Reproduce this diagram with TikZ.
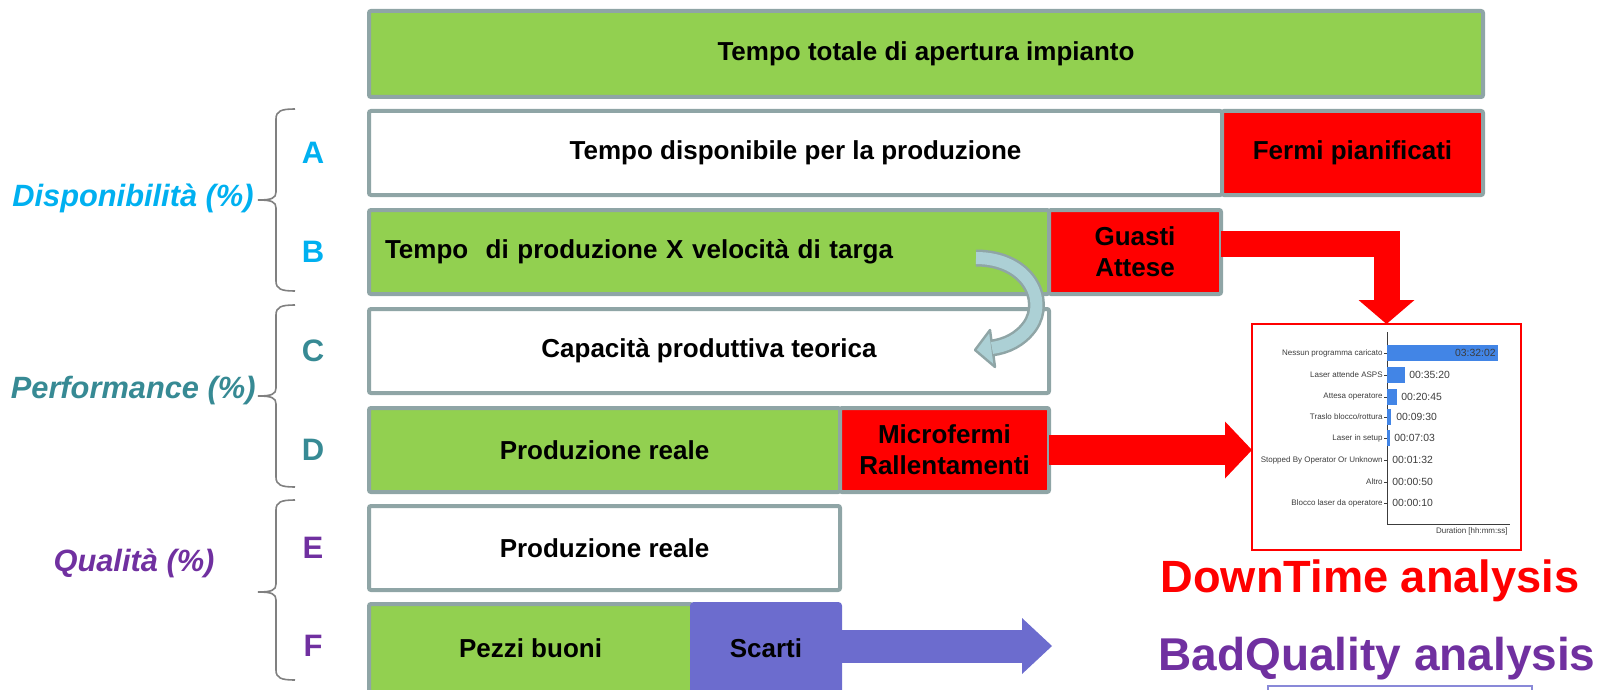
\documentclass[tikz,border=0pt]{standalone}
\usepackage{fontspec}
\setmainfont{Liberation Sans}
\usepackage{tikz}
\usetikzlibrary{calc,positioning,arrows.meta}
\definecolor{kgreen}{RGB}{146,208,80}
\definecolor{kpurple}{RGB}{108,108,206}
\definecolor{boxgray}{RGB}{143,165,166}
\definecolor{bracegray}{RGB}{128,128,128}
\definecolor{dispcol}{RGB}{0,176,240}
\definecolor{perfcol}{RGB}{55,138,148}
\definecolor{qualcol}{RGB}{112,48,160}
\definecolor{curvefill}{RGB}{172,208,213}
\definecolor{barblue}{RGB}{66,133,230}
\definecolor{chartgray}{RGB}{60,60,60}
\tikzset{
  kbox/.style={draw=boxgray, line width=2pt, rounded corners=1pt, inner sep=0pt, outer sep=0pt,
    align=center, minimum height=42pt, font=\bfseries\fontsize{13}{15.5}\selectfont},
  greenbox/.style={kbox, fill=kgreen},
  whitebox/.style={kbox, fill=white},
  redbox/.style={kbox, fill=red},
  letter/.style={font=\bfseries\fontsize{15.5}{18}\selectfont},
  kpi/.style={font=\bfseries\itshape\fontsize{15.4}{18}\selectfont, anchor=east, inner sep=0pt},
  bracket/.style={draw=bracegray, line width=0.8pt},
  blockred/.style={draw=red, line width=15pt, -{Triangle[length=13.5pt, width=28.5pt, line width=0pt]}},
  catlabel/.style={anchor=east, inner sep=0pt, text=chartgray, font=\fontsize{4}{5}\selectfont},
  vallabel/.style={anchor=west, inner sep=0pt, text=chartgray, font=\fontsize{5.2}{6}\selectfont}
}
% brace: top y, tip y, bottom y
\newcommand{\kpibrace}[3]{%
  \draw[bracket] (295,#1) .. controls (281,#1) and (276,#1+2) .. (276,#1+10) -- (276,#2-8)
    .. controls (276,#2-2) and (272,#2) .. (258,#2)
    .. controls (272,#2) and (276,#2+2) .. (276,#2+8) -- (276,#3-10)
    .. controls (276,#3-2) and (281,#3) .. (295,#3);}

\begin{document}
\begin{tikzpicture}[x=0.5pt, y=-0.5pt]
  \useasboundingbox (0,0) rectangle (1600,690);

  % rows
  \node[greenbox, anchor=north west, minimum width=557pt, minimum height=43pt] (total) at (369,11) {Tempo totale di apertura impianto};
  \node[whitebox, anchor=north west, minimum width=426.5pt] (dispon) at (369,111) {Tempo disponibile per la produzione};
  \node[redbox, right=0pt of dispon, minimum width=130.5pt] (fermi) {Fermi pianificati};
  \node[greenbox, anchor=north west, minimum width=340pt, text width=324pt, align=left, inner xsep=8pt] (prodvel) at (369,210) {Tempo\ \ di produzione X velocità di targa};
  \node[redbox, right=0pt of prodvel, minimum width=86pt] (guasti) {Guasti\\Attese};
  \node[whitebox, anchor=north west, minimum width=340pt] (capac) at (369,309) {Capacità produttiva teorica};
  \node[greenbox, anchor=north west, minimum width=235.5pt] (reale) at (369,408) {Produzione reale};
  \node[redbox, right=0pt of reale, minimum width=104.5pt] (microf) {Microfermi\\Rallentamenti};
  \node[whitebox, anchor=north west, minimum width=235.5pt] (realeq) at (369,506) {Produzione reale};
  \node[greenbox, anchor=north west, minimum width=161.5pt, minimum height=44pt] (pezzi) at (369,604) {Pezzi buoni};
  \node[kbox, draw=kpurple, fill=kpurple, right=0pt of pezzi, minimum width=74pt, minimum height=44pt] (scarti) {Scarti};

  % letters and indicators
  \node[letter, text=dispcol] (la) at (313,153) {A};
  \node[letter, text=dispcol] (lb) at (313,252) {B};
  \node[letter, text=perfcol] (lc) at (313,351) {C};
  \node[letter, text=perfcol] (ld) at (313,450) {D};
  \node[letter, text=qualcol] (le) at (313,548) {E};
  \node[letter, text=qualcol] (lf) at (313,646) {F};
  \node[kpi, text=dispcol] (disp) at (254,198) {Disponibilità (\%)};
  \node[kpi, text=perfcol] (perf) at (256,391) {Performance (\%)};
  \node[kpi, text=qualcol, anchor=center] (qual) at (134,563) {Qualità (\%)};
  \kpibrace{109}{200}{291}
  \kpibrace{305}{396}{487}
  \kpibrace{500}{592}{680}

  % curved arrow B -> C
  \draw[line width=8.5pt, draw=boxgray] (976,258) .. controls (1028,258) and (1048,300) .. (1030,326)
    .. controls (1020,340) and (1006,346) .. (992,348);
  \filldraw[fill=curvefill, draw=boxgray, line width=1.2pt, line join=round] (975,350) -- (990,330) -- (995,367) -- cycle;
  \draw[line width=6pt, draw=curvefill] (976,258) .. controls (1028,258) and (1048,300) .. (1030,326)
    .. controls (1020,340) and (1006,346) .. (992,348);

  % downtime chart
  \node[draw=red, line width=1pt, inner sep=0pt, outer sep=0pt, minimum width=134.5pt, minimum height=113pt] (chart) at (1386.5,437) {};
  \draw[chartgray, line width=0.5pt] (1387,332) -- (1387,524) -- (1510,524);
  \fill[barblue] (1387,345) rectangle (1498,361);
  \fill[barblue] (1387,367) rectangle (1405,383);
  \fill[barblue] (1387,389) rectangle (1397,405);
  \fill[barblue] (1387,409) rectangle (1391,425);
  \fill[barblue] (1387,430) rectangle (1390,446);
  \node[catlabel] (c1) at (1383,353) {Nessun programma caricato};
  \node[catlabel] (c2) at (1383,375) {Laser attende ASPS};
  \node[catlabel] (c3) at (1383,397) {Attesa operatore};
  \node[catlabel] (c4) at (1383,417) {Traslo blocco/rottura};
  \node[catlabel] (c5) at (1383,438) {Laser in setup};
  \node[catlabel] (c6) at (1383,460) {Stopped By Operator Or Unknown};
  \node[catlabel] (c7) at (1383,482) {Altro};
  \node[catlabel] (c8) at (1383,503) {Blocco laser da operatore};
  \foreach \yy in {353,375,397,417,438,460,482,503}
    \draw[chartgray, line width=0.4pt] (1384,\yy) -- (1387,\yy);
  \node[vallabel, anchor=east] (v1) at (1496,353) {03:32:02};
  \node[vallabel] (v2) at (1409,375) {00:35:20};
  \node[vallabel] (v3) at (1401,397) {00:20:45};
  \node[vallabel] (v4) at (1396,417) {00:09:30};
  \node[vallabel] (v5) at (1394,438) {00:07:03};
  \node[vallabel] (v6) at (1392,460) {00:01:32};
  \node[vallabel] (v7) at (1392,482) {00:00:50};
  \node[vallabel] (v8) at (1392,503) {00:00:10};
  \node[catlabel] (dur) at (1508,531) {Duration [hh:mm:ss]};

  % block arrows
  \draw[blockred, line width=13pt, -{Triangle[length=12pt, width=28pt, line width=0pt]}] ([yshift=4pt]guasti.east) -| (chart.north);
  \draw[blockred] (microf.east) -- (microf.east -| chart.west);
  \coordinate (qtip) at (1052,646);
  \draw[draw=kpurple, line width=16.5pt, -{Triangle[length=15pt, width=28pt, line width=0pt]}] (scarti.east |- qtip) -- (qtip);

  % titles
  \node[anchor=base, text=red, font=\bfseries\fontsize{22.6}{26}\selectfont] (downtime) at (1370,592) {DownTime analysis};
  \node[anchor=base, text=qualcol, font=\bfseries\fontsize{23}{26}\selectfont] (badq) at (1377,670) {BadQuality analysis};
  \draw[draw=kpurple!80, line width=0.6pt] (1268,700) -- (1268,686) -- (1532,686) -- (1532,700);
\end{tikzpicture}
\end{document}
